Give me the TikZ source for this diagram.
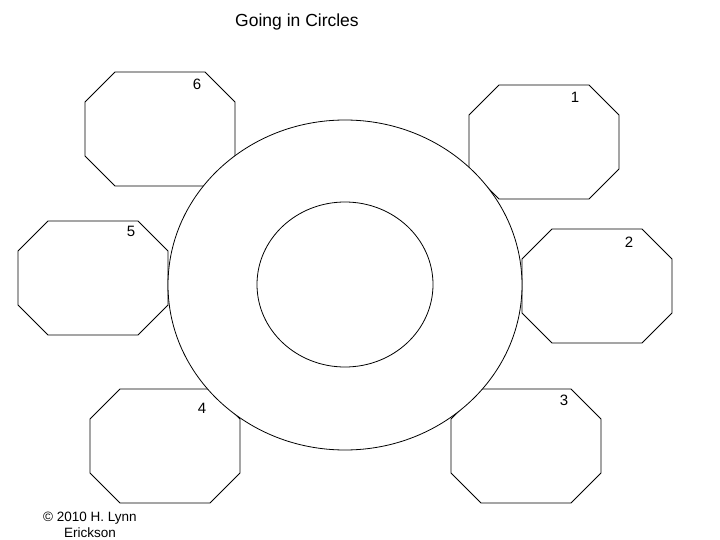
\documentclass[tikz,border=0pt]{standalone}
\usepackage{fontspec}
\setmainfont{Liberation Sans}
\begin{document}
\begin{tikzpicture}[x=1pt,y=-1pt,
  oct/.style={draw=black,line width=0.8pt,fill=white},
  lbl/.style={font=\fontsize{15}{17}\selectfont,inner sep=0pt}]
\useasboundingbox[fill=white] (0,0) rectangle (720,540);
\def\octa#1#2{\draw[oct] (#1+30,#2) -- (#1+120,#2) -- (#1+150,#2+30) -- (#1+150,#2+84) -- (#1+120,#2+114) -- (#1+30,#2+114) -- (#1,#2+84) -- (#1,#2+30) -- cycle;}
\octa{85}{72}
\octa{469}{85}
\octa{18}{221}
\octa{522}{229}
\octa{90}{389}
\octa{451}{389}
\draw[oct] (345,285) ellipse [x radius=177, y radius=165];
\draw[oct] (345,284.5) ellipse [x radius=88, y radius=82.5];
\node[lbl,font=\fontsize{17.5}{20}\selectfont] (title) at (297,22) {Going in Circles};
\node[lbl] (l6) at (197,84) {6};
\node[lbl] (l1) at (575,97) {1};
\node[lbl] (l5) at (131,231) {5};
\node[lbl] (l2) at (629,242) {2};
\node[lbl] (l4) at (202,408) {4};
\node[lbl] (l3) at (564,400) {3};
\node[lbl,font=\fontsize{13.5}{16}\selectfont,align=center] (copy) at (90,525) {© 2010 H. Lynn\\Erickson};
\end{tikzpicture}
\end{document}
